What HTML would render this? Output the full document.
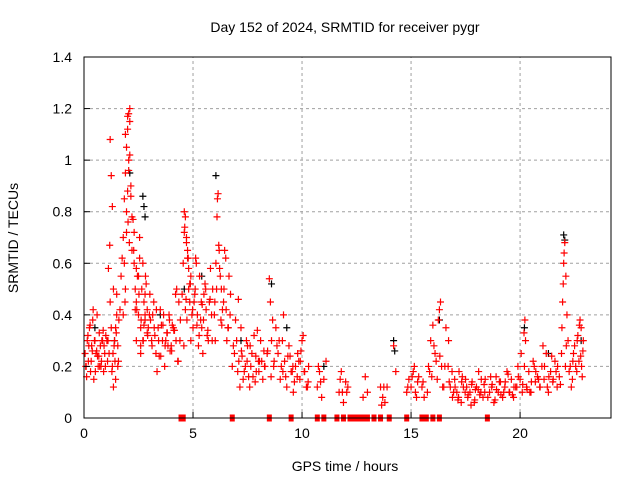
<!DOCTYPE html>
<html><head><meta charset="utf-8"><style>
html,body{margin:0;padding:0;background:#fff;}
svg{display:block;font-family:"Liberation Sans",sans-serif;}
</style></head><body>
<svg id="chart" width="640" height="480" viewBox="0 0 640 480" xmlns="http://www.w3.org/2000/svg">
<text x="345" y="32" font-size="14" text-anchor="middle">Day 152 of 2024, SRMTID for receiver pygr</text>
<text x="345" y="471" font-size="14" text-anchor="middle">GPS time / hours</text>
<text transform="translate(18,238) rotate(-90)" font-size="14" text-anchor="middle">SRMTID / TECUs</text>
<g id="grid"></g>
<g id="marks"></g>
<rect x="84" y="57" width="527" height="361" fill="none" stroke="#000" stroke-width="1"/>
<g id="axes"></g>
</svg>
<script>
const xTicks=[0,5,10,15,20];
const yTicks=[0,0.2,0.4,0.6,0.8,1,1.2,1.4];
const yTickLabels=["0","0.2","0.4","0.6","0.8","1","1.2","1.4"];
const redHours=[0.05,0.1,0.15,0.2,0.25,0.3,0.35,0.4,0.45,0.5,0.55,0.6,0.65,0.7,0.75,0.8,0.85,0.9,0.95,1.0,0.12,0.28,0.42,0.58,0.72,0.88,1.05,
1.1,1.15,1.2,1.25,1.3,1.35,1.4,1.45,1.5,1.55,1.6,1.2,1.25,1.3,1.12,1.18,1.35,1.42,1.5,
1.7,1.75,1.8,1.85,1.9,1.95,2.0,2.05,2.1,2.15,2.2,1.8,1.85,1.9,1.95,2.0,2.05,2.1,2.15,2.2,1.9,2.0,2.1,1.95,2.05,2.02,2.08,1.88,
2.25,2.3,2.35,2.4,2.45,2.5,2.55,2.6,2.65,2.7,2.75,2.8,2.85,2.9,2.95,3.0,2.3,2.4,2.5,2.6,2.7,2.8,2.9,2.35,2.55,2.75,2.4,2.6,2.8,
3.05,3.1,3.2,3.3,3.4,3.5,3.6,3.7,3.8,3.9,4.0,4.1,4.2,4.3,4.4,3.15,3.35,3.55,3.75,3.95,4.15,4.35,3.25,3.45,3.65,3.85,4.05,4.25,
4.5,4.55,4.6,4.65,4.7,4.75,4.8,4.85,4.9,4.95,5.0,4.6,4.7,4.8,4.9,4.65,4.75,4.85,4.62,4.72,
5.05,5.1,5.2,5.3,5.4,5.5,5.6,5.7,5.8,5.9,5.15,5.35,5.55,5.75,5.25,5.45,5.65,5.85,5.12,5.42,
6.0,6.05,6.1,6.15,6.2,6.25,6.3,6.4,6.5,6.6,6.7,6.02,6.08,6.12,6.22,6.35,6.45,6.55,6.65,6.18,6.28,
6.8,6.9,7.0,7.1,7.2,7.3,7.4,7.5,7.6,7.7,7.8,7.9,8.0,8.1,8.2,8.3,8.4,6.85,7.05,7.25,7.45,7.65,7.85,8.05,8.25,7.15,7.55,7.95,
8.5,8.55,8.6,8.7,8.8,8.9,9.0,9.1,9.2,9.3,9.4,9.5,9.6,9.7,9.8,9.9,10.0,10.1,10.2,10.3,8.65,8.85,9.05,9.25,9.45,9.65,9.85,10.05,10.25,9.15,9.55,9.95,
10.7,10.8,10.9,11.0,11.1,11.7,11.8,11.9,12.0,12.1,12.8,12.9,13.0,13.6,13.7,13.8,13.9,14.2,14.3,10.75,10.85,11.75,11.85,12.05,13.65,13.75,
14.8,14.9,15.0,15.1,15.2,15.3,15.5,15.6,15.8,15.9,16.0,16.1,16.2,16.3,16.4,16.5,16.6,14.85,15.05,15.25,15.85,16.05,16.25,16.35,16.32,16.15,
16.7,16.8,16.9,17.0,17.1,17.2,17.3,17.4,17.5,17.6,17.7,17.8,17.9,18.0,18.1,18.2,18.3,18.4,18.6,18.7,18.8,18.9,19.0,19.1,19.2,19.3,19.4,19.5,19.6,19.7,19.8,19.9,
16.75,16.95,17.15,17.35,17.55,17.75,17.95,18.15,18.35,18.65,18.85,19.05,19.25,19.45,19.65,19.85,
20.0,20.1,20.2,20.3,20.4,20.5,20.6,20.7,20.8,20.9,21.0,21.1,21.2,21.3,21.4,21.5,21.6,21.7,21.8,20.05,20.25,20.45,20.65,20.85,21.05,21.25,21.45,21.65,20.22,20.18,
21.9,21.95,22.0,22.05,22.1,22.15,22.2,21.92,21.98,22.02,22.08,22.12,
22.3,22.4,22.5,22.6,22.7,22.8,22.9,22.35,22.45,22.55,22.65,22.75,22.85,22.72,22.78,
0.08,0.22,0.33,0.48,0.62,0.78,0.92,1.08,0.18,0.38,0.52,0.68,0.82,0.98,1.28,1.38,1.48,1.58,1.65,1.33,1.45,1.55,
2.28,2.42,2.52,2.62,2.72,2.82,2.92,3.02,3.12,3.22,3.32,3.42,3.52,3.62,3.72,3.82,3.92,4.02,4.12,4.22,4.32,4.42,
4.58,4.68,4.78,4.88,4.98,5.08,5.18,5.28,5.38,5.48,5.58,5.68,5.78,5.88,5.98,6.32,6.42,6.52,6.62,6.72,
6.95,7.08,7.22,7.35,7.48,7.62,7.75,7.88,8.02,8.15,8.28,8.42,8.58,8.72,8.95,9.12,9.35,9.58,9.78,9.92,10.12,10.28,
15.15,15.35,15.55,15.75,15.95,16.45,16.55,
16.72,16.88,17.02,17.18,17.32,17.48,17.62,17.78,17.92,18.08,18.22,18.38,18.52,18.72,18.92,19.12,19.32,19.52,19.72,19.92,
20.12,20.32,20.52,20.72,20.92,21.12,21.32,21.52,21.72,21.85,22.25,22.42,22.62,22.82,22.88];
const redValues=[0.25,0.2,0.3,0.22,0.35,0.18,0.28,0.38,0.15,0.3,0.25,0.4,0.2,0.33,0.28,0.22,0.3,0.18,0.25,0.32,0.16,0.36,0.42,0.26,0.2,0.34,0.3,
0.3,0.25,0.45,0.35,0.2,0.5,0.3,0.15,0.4,0.28,0.38,1.08,0.94,0.82,0.58,0.67,0.12,0.22,0.48,
0.55,0.62,0.7,0.85,0.95,1.05,1.12,1.18,1.15,0.9,0.78,0.4,0.6,0.5,0.72,0.88,1.0,1.2,0.86,0.65,1.1,1.17,1.02,0.8,0.96,0.76,0.68,0.45,
0.77,0.6,0.5,0.45,0.55,0.4,0.62,0.35,0.5,0.3,0.45,0.38,0.52,0.42,0.35,0.4,0.72,0.3,0.55,0.25,0.6,0.48,0.33,0.42,0.7,0.36,0.58,0.28,0.4,
0.38,0.3,0.45,0.25,0.35,0.42,0.3,0.2,0.33,0.4,0.28,0.35,0.48,0.22,0.3,0.4,0.18,0.36,0.3,0.26,0.34,0.45,0.32,0.24,0.4,0.28,0.36,0.5,
0.48,0.6,0.72,0.78,0.7,0.65,0.5,0.45,0.55,0.4,0.35,0.8,0.68,0.58,0.3,0.42,0.62,0.52,0.74,0.38,
0.45,0.5,0.4,0.55,0.35,0.48,0.42,0.3,0.58,0.5,0.6,0.38,0.52,0.45,0.28,0.25,0.32,0.4,0.62,0.44,
0.45,0.6,0.78,0.87,0.65,0.55,0.5,0.45,0.62,0.35,0.4,0.3,0.5,0.85,0.58,0.42,0.65,0.3,0.55,0.67,0.38,
0.2,0.25,0.3,0.22,0.35,0.15,0.2,0.28,0.12,0.25,0.32,0.18,0.22,0.3,0.15,0.2,0.25,0.28,0.18,0.24,0.3,0.2,0.14,0.22,0.26,0.12,0.16,0.34,
0.54,0.45,0.3,0.2,0.35,0.25,0.15,0.3,0.22,0.12,0.28,0.18,0.1,0.2,0.25,0.15,0.3,0.18,0.12,0.2,0.38,0.28,0.2,0.16,0.24,0.14,0.22,0.32,0.12,0.4,0.18,0.26,
0.12,0.18,0.08,0.15,0.22,0.1,0.18,0.06,0.14,0.12,0.08,0.16,0.1,0.12,0.08,0.06,0.12,0.28,0.18,0.2,0.14,0.15,0.1,0.1,0.05,0.12,
0.1,0.15,0.12,0.18,0.1,0.14,0.12,0.08,0.2,0.3,0.36,0.25,0.15,0.42,0.2,0.12,0.35,0.12,0.16,0.08,0.18,0.28,0.38,0.45,0.24,0.22,
0.2,0.12,0.08,0.15,0.1,0.18,0.06,0.12,0.15,0.08,0.1,0.14,0.06,0.12,0.18,0.1,0.08,0.15,0.1,0.12,0.06,0.16,0.1,0.14,0.08,0.12,0.18,0.1,0.15,0.08,0.12,0.2,
0.14,0.1,0.07,0.16,0.12,0.05,0.11,0.09,0.13,0.16,0.07,0.14,0.1,0.17,0.09,0.12,
0.15,0.1,0.2,0.12,0.18,0.1,0.22,0.14,0.16,0.12,0.2,0.15,0.25,0.1,0.18,0.14,0.22,0.12,0.16,0.25,0.3,0.1,0.2,0.15,0.28,0.12,0.24,0.18,0.38,0.33,
0.25,0.45,0.6,0.68,0.55,0.4,0.3,0.35,0.52,0.64,0.2,0.28,
0.2,0.15,0.28,0.18,0.22,0.35,0.3,0.12,0.25,0.2,0.32,0.38,0.16,0.36,0.24,
0.2,0.28,0.22,0.3,0.24,0.2,0.28,0.22,0.32,0.26,0.18,0.24,0.3,0.2,0.18,0.28,0.33,0.22,0.42,0.25,0.35,0.2,
0.65,0.42,0.48,0.38,0.3,0.55,0.32,0.48,0.28,0.35,0.42,0.3,0.24,0.36,0.28,0.33,0.38,0.26,0.34,0.3,0.22,0.38,0.28,0.46,
0.62,0.52,0.42,0.48,0.36,0.32,0.45,0.38,0.5,0.34,0.46,0.3,0.4,0.36,0.5,0.42,0.35,0.48,0.38,0.46,
0.26,0.18,0.22,0.28,0.16,0.24,0.18,0.22,0.2,0.26,0.16,0.22,0.3,0.18,0.24,0.2,0.16,0.22,0.18,0.14,0.2,0.16,
0.14,0.1,0.16,0.12,0.2,0.3,0.18,
0.12,0.08,0.14,0.1,0.09,0.13,0.07,0.11,0.15,0.1,0.08,0.13,0.11,0.09,0.14,0.1,0.12,0.16,0.13,0.11,
0.14,0.18,0.12,0.2,0.16,0.15,0.2,0.13,0.18,0.22,0.3,0.2,0.26,0.3,0.2];
const blackHours=[0.5,1.4,2.1,2.7,2.75,2.8,3.5,4.6,5.4,6.05,7.2,8.6,9.3,11.0,14.2,14.25,16.3,20.2,21.3,22.0,22.05,22.8];
const blackValues=[0.35,0.3,0.95,0.86,0.82,0.78,0.4,0.5,0.55,0.94,0.3,0.52,0.35,0.2,0.3,0.26,0.38,0.35,0.25,0.71,0.69,0.3];
const zeroHours=[4.45,4.55,6.8,8.5,9.5,10.7,11.0,11.6,11.9,12.2,12.4,12.6,12.8,13.0,13.3,13.6,14.0,14.8,15.5,15.7,16.0,16.3,18.5];

const NS="http://www.w3.org/2000/svg";
const X0=84,X1=611,Y0=418,Y1=57,XMAX=24.17,YMAX=1.4;
function sx(h){return X0+(X1-X0)*h/XMAX;}
function sy(v){return Y0-(Y0-Y1)*v/YMAX;}
function mk(tag,attrs,parent){const e=document.createElementNS(NS,tag);for(const k in attrs)e.setAttribute(k,attrs[k]);parent.appendChild(e);return e;}
const grid=document.getElementById('grid'),axes=document.getElementById('axes'),marks=document.getElementById('marks');
xTicks.forEach(t=>{const x=sx(t);
 if(t>0){const g=mk('line',{x1:x,x2:x,y1:Y0,y2:Y1,stroke:'#a0a0a0','stroke-dasharray':'3,3'},grid);
 
 }
 const tk=mk('line',{x1:x,x2:x,y1:Y0,y2:Y0-6,stroke:'#000'},axes);
 
 
 const l=mk('text',{x:x,y:Y0+20,'font-size':14,'text-anchor':'middle'},axes);l.textContent=String(t);
 
 
});
yTicks.forEach((t,i)=>{const y=sy(t);
 if(t>0&&t<YMAX){const g=mk('line',{x1:X0,x2:X1,y1:y,y2:y,stroke:'#a0a0a0','stroke-dasharray':'3,3'},grid);
 
 }
 const tk=mk('line',{x1:X0,x2:X0+6,y1:y,y2:y,stroke:'#000'},axes);
 
 
 const l=mk('text',{x:X0-12,y:y+5,'font-size':14,'text-anchor':'end'},axes);l.textContent=yTickLabels[i];
 
 
});
function plus(h,v,color,name){const x=sx(h),y=sy(v);
 const p=mk('path',{d:`M${x-3.5} ${y}H${x+3.5}M${x} ${y-3.5}V${y+3.5}`,stroke:color,'stroke-width':1.2,fill:'none'},marks);
 
 
}
blackHours.forEach((h,i)=>plus(h,blackValues[i],'#000','black-point'));
redHours.forEach((h,i)=>plus(h,redValues[i],'#ff0000','red-point'));
zeroHours.forEach(h=>{const r=mk('rect',{x:sx(h)-2.5,y:Y0-3.5,width:5,height:7,fill:'#ff0000'},marks);
 
 
});
</script>
</body></html>
